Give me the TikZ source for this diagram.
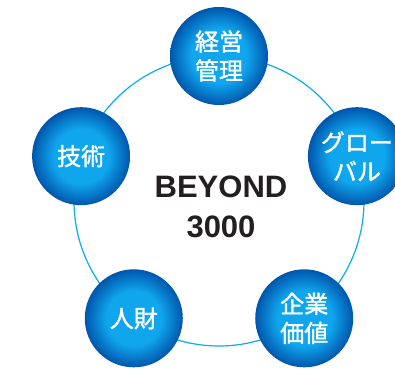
\documentclass[tikz,border=0pt]{standalone}
\usepackage{fontspec}
\setmainfont{Liberation Sans}
\newfontfamily\jpfont[FakeBold=1.4]{Noto Sans CJK JP}
\usepackage{tikz}
\usetikzlibrary{
    positioning,
    calc
}
\definecolor{RingBlue}{RGB}{10,172,234}
\definecolor{HubLight}{RGB}{16,166,238}
\definecolor{HubDark}{RGB}{0,86,172}
\definecolor{CoreInk}{RGB}{35,31,32}
\pgfdeclareradialshading{hubball}{\pgfpoint{0bp}{0bp}}{color(0bp)=(HubLight); color(14bp)=(HubLight); color(25bp)=(HubDark); color(50bp)=(HubDark)}
\tikzset{
    ring/.style={draw=RingBlue, line width=1.2pt},
    hub/.style={circle, inner sep=0pt, minimum size=98pt, shading=hubball, text=white, align=center, font=\jpfont\fontsize{24}{29}\selectfont},
    core/.style={font=\bfseries\fontsize{31}{40}\selectfont, text=CoreInk, align=center}
}

\begin{document}
\begin{tikzpicture}[x=1pt, y=1pt]
                    \useasboundingbox (0,0) rectangle (395,369);
                    \coordinate (RingC) at (219,168);
                    \def\RingR{145pt}
                    \draw[ring] (RingC) circle[radius=\RingR];
                    \node[core] (beyond) at (221,162) {BEYOND\\3000};
                    \node[hub] (keiei) at ($(RingC)+(90:\RingR)$) {経営\\管理};
                    \node[hub] (global) at ($(RingC)+(18:\RingR)$) {グロー\\バル};
                    \node[hub] (gijutsu) at ($(RingC)+(162:\RingR)$) {技術};
                    \node[hub] (jinzai) at ($(RingC)+(234:\RingR)$) {人財};
                    \node[hub] (kigyou) at ($(RingC)+(-54:\RingR)$) {企業\\価値};
                \end{tikzpicture}
\end{document}
